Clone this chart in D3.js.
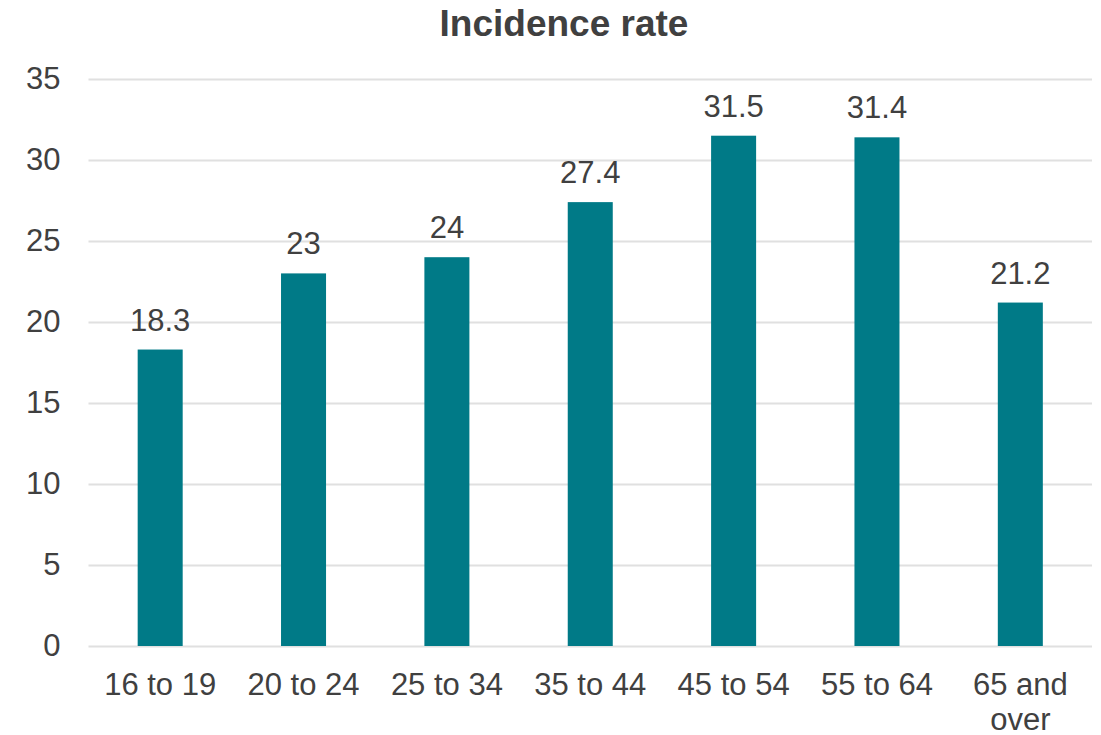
<!DOCTYPE html>
<html>
<head>
<meta charset="utf-8">
<script src="https://cdn.jsdelivr.net/npm/d3@7"></script>
<style>
  html, body { margin: 0; padding: 0; background: #ffffff; }
  svg { display: block; font-family: "Liberation Sans", Arial, sans-serif; }
</style>
</head>
<body>
<svg id="chart" width="1101" height="735"></svg>
<script>
// Age groups and incidence rates
const categories = ["16 to 19", "20 to 24", "25 to 34", "35 to 44", "45 to 54", "55 to 64", "65 and over"];
const values = [18.3, 23, 24, 27.4, 31.5, 31.4, 21.2];
const yTicks = [0, 5, 10, 15, 20, 25, 30, 35];
const title = "Incidence rate";

const svg = d3.select("#chart");
const plotLeft = 88.5, plotRight = 1092, plotTop = 79, plotBottom = 646;
const fontSize = 31;

const x = d3.scaleBand()
  .domain(categories)
  .range([plotLeft, plotRight])
  .paddingInner(0.686)
  .paddingOuter(0.343);

const y = d3.scaleLinear()
  .domain([0, 35])
  .range([plotBottom, plotTop]);

const textColor = "#404040";

// Title
svg.append("text")
  .attr("x", 564)
  .attr("y", 35.5)
  .attr("text-anchor", "middle")
  .attr("font-size", 37)
  .attr("font-weight", "bold")
  .attr("fill", textColor)
  .text(title);

// Gridlines and y tick labels
const yAxis = d3.axisLeft(y)
  .tickValues(yTicks)
  .tickSize(-(plotRight - plotLeft))
  .tickPadding(28)
  .tickFormat(d3.format("d"));

const gy = svg.append("g")
  .attr("transform", `translate(${plotLeft},0)`)
  .call(yAxis);
gy.select(".domain").remove();
gy.selectAll(".tick line")
  .attr("stroke", "#e0e0e0")
  .attr("stroke-width", 2);
gy.selectAll(".tick text")
  .attr("font-size", fontSize)
  .attr("fill", textColor)
  .attr("font-family", "Liberation Sans, Arial, sans-serif");

// Bars
svg.append("g")
  .selectAll("rect")
  .data(values)
  .join("rect")
  .attr("x", (d, i) => x(categories[i]))
  .attr("width", x.bandwidth())
  .attr("y", d => y(d))
  .attr("height", d => y(0) - y(d))
  .attr("fill", "#007A87");

// Value labels
svg.append("g")
  .selectAll("text")
  .data(values)
  .join("text")
  .attr("x", (d, i) => x(categories[i]) + x.bandwidth() / 2)
  .attr("y", d => y(d) - 19)
  .attr("text-anchor", "middle")
  .attr("font-size", fontSize)
  .attr("fill", textColor)
  .text(d => d);

// X axis labels, wrapped to the band step
const xAxis = d3.axisBottom(x).tickSize(0).tickPadding(0);
const gx = svg.append("g")
  .attr("transform", `translate(0,${plotBottom})`)
  .call(xAxis);
gx.select(".domain").remove();
gx.selectAll(".tick text")
  .attr("font-size", fontSize)
  .attr("fill", textColor)
  .attr("font-family", "Liberation Sans, Arial, sans-serif")
  .attr("dy", null)
  .attr("y", 49)
  .each(function(d) {
    const t = d3.select(this);
    const words = d.split(" ");
    const maxW = x.step();
    t.text(null);
    let line = [];
    let lineNo = 0;
    let tspan = t.append("tspan").attr("x", 0).attr("y", 49);
    words.forEach(w => {
      line.push(w);
      tspan.text(line.join(" "));
      if (tspan.node().getComputedTextLength() > maxW && line.length > 1) {
        line.pop();
        tspan.text(line.join(" "));
        line = [w];
        lineNo++;
        tspan = t.append("tspan").attr("x", 0).attr("y", 49 + lineNo * 35).text(w);
      }
    });
  });
</script>
</body>
</html>
